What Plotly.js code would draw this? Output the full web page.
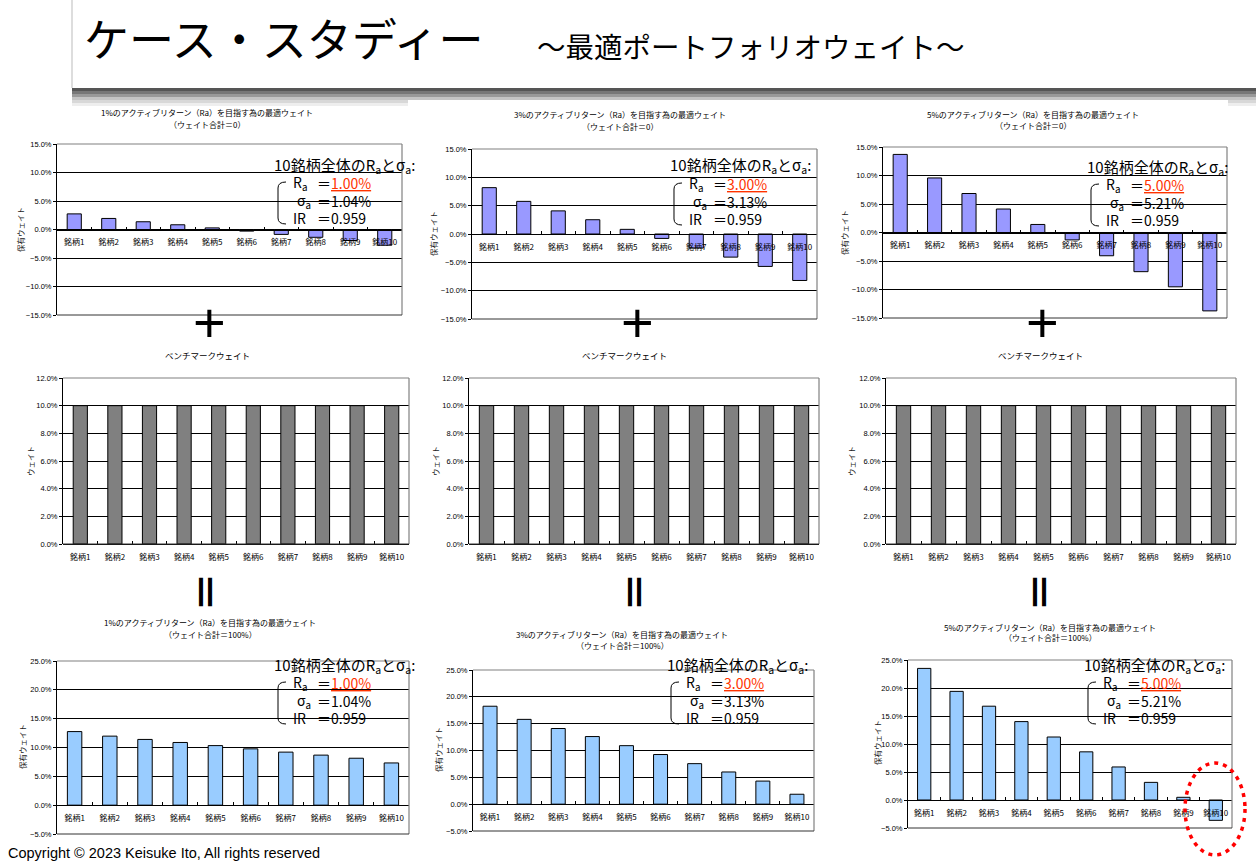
<!DOCTYPE html>
<html><head><meta charset="utf-8">
<script src="https://cdn.plot.ly/plotly-3.0.1.min.js"></script>
<style>html,body{margin:0;padding:0;background:#fff}#chart{width:1256px;height:867px}</style>
</head><body><div id="chart"></div>
<script>
// ---------- data ----------
const categories = ['銘柄1','銘柄2','銘柄3','銘柄4','銘柄5','銘柄6','銘柄7','銘柄8','銘柄9','銘柄10'];
const active1 = [2.74, 1.94, 1.36, 0.83, 0.28, -0.28, -0.86, -1.37, -1.93, -2.76];
const active3 = [8.18, 5.76, 4.08, 2.52, 0.82, -0.78, -2.48, -4.08, -5.72, -8.20];
const active5 = [13.70, 9.57, 6.84, 4.12, 1.41, -1.30, -4.08, -6.87, -9.53, -13.75];
const benchmark = [10, 10, 10, 10, 10, 10, 10, 10, 10, 10];
const total1 = [12.76, 11.97, 11.40, 10.87, 10.33, 9.77, 9.20, 8.68, 8.14, 7.32];
const total3 = [18.25, 15.80, 14.10, 12.60, 10.90, 9.25, 7.55, 6.00, 4.30, 1.85];
const total5 = [23.50, 19.40, 16.75, 14.00, 11.25, 8.60, 5.90, 3.15, 0.48, -3.63];
const activeTitles = ['1%のアクティブリターン（Ra）を目指す為の最適ウェイト','3%のアクティブリターン（Ra）を目指す為の最適ウェイト','5%のアクティブリターン（Ra）を目指す為の最適ウェイト'];
const subActive = '（ウェイト合計＝0）';
const subTotal = '（ウェイト合計＝100%）';
const benchTitle = 'ベンチマークウェイト';
const yTitleHold = '保有ウェイト';
const yTitleBench = 'ウェイト';
const raValues = ['1.00%','3.00%','5.00%'];
const sigmaValues = ['1.04%','3.13%','5.21%'];
const irValue = '0.959';
const mainTitle = 'ケース・スタディー';
const subTitle = '～最適ポートフォリオウェイト～';
const copyright = 'Copyright © 2023 Keisuke Ito, All rights reserved';

// ---------- layout helpers ----------
const W = 1256, H = 867;
const px = x => x / W, py = y => 1 - y / H;
const JP = 'Noto Sans CJK JP';
const EN = 'Liberation Sans';

const panels = [
  {v:active1, x0:57,  x1:402,  y0:144, y1:315, r:[-15,15], d:5, c:'#9999FF'},
  {v:active3, x0:472, x1:817,  y0:149, y1:319, r:[-15,15], d:5, c:'#9999FF'},
  {v:active5, x0:883, x1:1227, y0:147, y1:318, r:[-15,15], d:5, c:'#9999FF'},
  {v:benchmark, x0:63,  x1:409,  y0:378, y1:544, r:[0,12], d:2, c:'#808080'},
  {v:benchmark, x0:469, x1:819,  y0:378, y1:544, r:[0,12], d:2, c:'#808080'},
  {v:benchmark, x0:886, x1:1236, y0:378, y1:544, r:[0,12], d:2, c:'#808080'},
  {v:total1, x0:57,  x1:409,  y0:661, y1:834, r:[-5,25], d:5, c:'#99CCFF'},
  {v:total3, x0:473, x1:814,  y0:670, y1:831, r:[-5,25], d:5, c:'#99CCFF'},
  {v:total5, x0:908, x1:1232, y0:660, y1:828, r:[-5,25], d:5, c:'#99CCFF'}
];

const traces = [];
const layout = {
  width: W, height: H,
  margin: {l:0, r:0, t:0, b:0},
  paper_bgcolor: '#fff', plot_bgcolor: '#fff',
  showlegend: false, hovermode: false,
  bargap: 0.59,
  title: {text: mainTitle, x: px(84), xanchor: 'left', xref: 'paper', y: py(41), yref: 'paper', yanchor: 'middle',
          font: {family: JP, size: 45, color: '#000'}},
  annotations: [], shapes: []
};

panels.forEach((p, i) => {
  const n = i + 1;
  const xa = n === 1 ? 'xaxis' : 'xaxis' + n;
  const ya = n === 1 ? 'yaxis' : 'yaxis' + n;
  const xr = n === 1 ? 'x' : 'x' + n;
  const yr = n === 1 ? 'y' : 'y' + n;
  const yd = [py(p.y1), py(p.y0)];
  const frac = (0 - p.r[0]) / (p.r[1] - p.r[0]);
  traces.push({type:'bar', x: categories, y: p.v, xaxis: xr, yaxis: yr,
    marker: {color: p.c, line: {color: '#000', width: 1}}});
  layout[xa] = {domain: [px(p.x0), px(p.x1)], anchor: 'free', position: yd[0] + frac * (yd[1] - yd[0]),
    type: 'category', showline: true, linecolor: '#000', linewidth: 1,
    ticks: 'inside', ticklen: 3, tickcolor: '#000', tickson: 'boundaries', tickangle: 0,
    ticklabelstandoff: 5,
    showgrid: false, zeroline: false, fixedrange: true,
    tickfont: {family: JP, size: 8, color: '#000'}};
  layout[ya] = {domain: yd, anchor: xr, range: p.r, dtick: p.d, tick0: 0,
    tickformat: '.1f', ticksuffix: '%', showline: true, linecolor: '#000', linewidth: 1,
    ticks: 'outside', ticklen: 3, tickcolor: '#000',
    showgrid: true, gridcolor: '#000', gridwidth: 1, zeroline: false, fixedrange: true,
    tickfont: {family: EN, size: 7.5, color: '#000'}};
  layout.shapes.push({type:'line', xref:'paper', yref:'paper', x0:px(p.x0), x1:px(p.x1), y0:py(p.y0), y1:py(p.y0), line:{color:'#808080', width:1.2}, layer:'above'});
  layout.shapes.push({type:'line', xref:'paper', yref:'paper', x0:px(p.x1), x1:px(p.x1), y0:py(p.y0), y1:py(p.y1), line:{color:'#808080', width:1.2}, layer:'above'});
  layout.shapes.push({type:'line', xref:'paper', yref:'paper', x0:px(p.x0), x1:px(p.x1), y0:py(p.y1), y1:py(p.y1), line:{color:'#333', width:1}, layer:'above'});
});

function ann(x, y, text, size, opts) {
  layout.annotations.push(Object.assign({xref:'paper', yref:'paper', x: px(x), y: py(y), text: text,
    showarrow: false, xanchor: 'center', yanchor: 'middle', font: {family: JP, size: size, color: '#000'}}, opts || {}));
}

// sub title
ann(535, 45, subTitle, 28.5, {xanchor: 'left'});

// chart titles
[[207,113,124],[620,115,126],[1033,115,125]].forEach((t, k) => {
  ann(t[0], t[1], activeTitles[k], 8);
  ann(t[0], t[2], subActive, 8);
});
[[210,622,634],[622,634,645],[1050,627,637]].forEach((t, k) => {
  ann(t[0], t[1], activeTitles[k], 8);
  ann(t[0], t[2], subTotal, 8);
});
[207, 624, 1040].forEach(x => ann(x, 355, benchTitle, 8.5));

// y-axis titles
[[21,230],[433,234],[845,233],[22,747],[438,750],[877,743]].forEach(t =>
  ann(t[0], t[1], yTitleHold, 7.5, {textangle: -90, font: {family: JP, size: 7.5, color: '#222'}}));
[[30,461],[435,461],[851,461]].forEach(t =>
  ann(t[0], t[1], yTitleBench, 7.5, {textangle: -90, font: {family: JP, size: 7.5, color: '#222'}}));

// stats blocks
[[272,165,0],[668,166,1],[1085,167,2],[272,665,0],[665,665,1],[1082,665,2]].forEach(b => {
  const bx = b[0], by = b[1], k = b[2];
  ann(bx, by, '10銘柄全体のR<sub>a</sub>とσ<sub>a</sub>:', 15, {xanchor: 'left'});
  ann(bx + 19, by + 18, 'R<sub>a</sub>', 14, {xanchor: 'left'});
  ann(bx + 43, by + 18, '＝<span style="color:#FF3300"><u>' + raValues[k] + '</u></span>', 14, {xanchor: 'left'});
  ann(bx + 23, by + 36, 'σ<sub>a</sub>', 14, {xanchor: 'left'});
  ann(bx + 43, by + 36, '＝' + sigmaValues[k], 14, {xanchor: 'left'});
  ann(bx + 19, by + 53, 'IR', 14, {xanchor: 'left'});
  ann(bx + 43, by + 53, '＝' + irValue, 14, {xanchor: 'left'});
  const P = (x, y) => px(x).toFixed(5) + ',' + py(y).toFixed(5);
  layout.shapes.push({type: 'path', xref: 'paper', yref: 'paper', layer: 'above',
    path: 'M' + P(bx + 14, by + 17) + ' Q' + P(bx + 6, by + 17) + ' ' + P(bx + 6, by + 23) +
          ' L' + P(bx + 6, by + 53) + ' Q' + P(bx + 6, by + 59) + ' ' + P(bx + 14, by + 59),
    line: {color: '#000', width: 1}});
});

// plus / equals
[209, 637, 1042].forEach(x => ann(x, 322, '+', 56, {font: {family: EN, size: 56, color: '#000'}}));
[207, 636, 1041].forEach(x => ann(x, 592, '＝', 40, {textangle: 90, font: {family: JP, size: 40, color: '#000', weight: 'bold'}}));

// copyright
ann(6, 853, copyright, 14.5, {xanchor: 'left', font: {family: EN, size: 14.5, color: '#000'}});

// title box decorations
layout.shapes.push({type:'line', xref:'paper', yref:'paper', x0:px(72), x1:px(72), y0:py(0), y1:py(88), line:{color:'#bbb', width:1}, layer:'below'});
[[88,91,'#555'],[91,94,'#777'],[94,97,'#999'],[97,100,'#c4c4c4']].forEach(s =>
  layout.shapes.push({type:'rect', xref:'paper', yref:'paper', x0:px(72), x1:px(1256), y0:py(s[1]), y1:py(s[0]), fillcolor:s[2], line:{width:0}, layer:'below'}));
[[100,103,'#d8d8d8'],[103,106,'#eeeeee']].forEach(s => {
  layout.shapes.push({type:'rect', xref:'paper', yref:'paper', x0:px(72), x1:px(408), y0:py(s[1]), y1:py(s[0]), fillcolor:s[2], line:{width:0}, layer:'below'});
  layout.shapes.push({type:'rect', xref:'paper', yref:'paper', x0:px(1228), x1:px(1256), y0:py(s[1]), y1:py(s[0]), fillcolor:s[2], line:{width:0}, layer:'below'});
});

// red dotted ellipse
layout.shapes.push({type:'circle', xref:'paper', yref:'paper', x0:px(1185), x1:px(1245), y0:py(855), y1:py(763),
  line:{color:'#FF0000', width:3.5, dash:'4px,5px'}, layer:'above'});

Plotly.newPlot('chart', traces, layout, {displayModeBar: false, staticPlot: true});
</script></body></html>
